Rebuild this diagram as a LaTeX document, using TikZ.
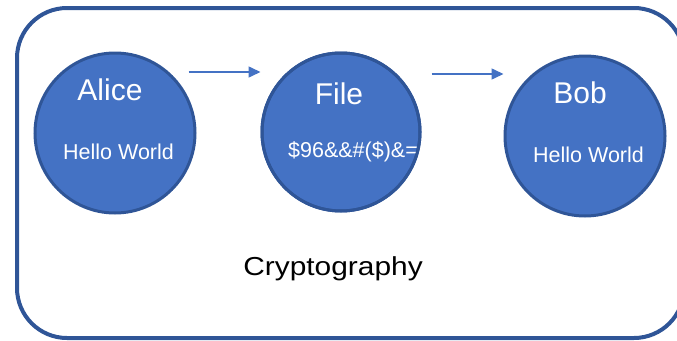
\documentclass[tikz,border=0pt]{standalone}
\usepackage{fontspec}
\setmainfont{Liberation Sans}
\usetikzlibrary{arrows.meta}
\definecolor{discfill}{HTML}{4472C4}
\definecolor{discedge}{HTML}{2F5597}
\tikzset{
  disc/.style={circle, fill=discfill, draw=discedge, line width=3pt, minimum size=#1, inner sep=0pt},
  title/.style={text=white, inner sep=0pt, anchor=base, font=\fontsize{30}{36}\selectfont},
  msg/.style={text=white, inner sep=0pt, anchor=base, font=\fontsize{21.5}{26}\selectfont},
  flow/.style={draw=discfill, line width=1.5pt, -{Triangle[length=12pt,width=11pt]}},
  frame/.style={draw=discedge, line width=4pt, rounded corners=50pt}
}
\begin{document}
\begin{tikzpicture}[x=1pt, y=-1pt]
  \useasboundingbox (0,0) rectangle (677,340);
  % outer container
  \draw[frame] (17,8) rectangle (684,338);
  % the three parties
  \node[disc=160pt] (alice) at (115,133) {};
  \node[disc=158pt] (file)  at (341,132) {};
  \node[disc=160pt] (bob)   at (585,136) {};
  % labels
  \node[title] (alicet) at (110,100) {Alice};
  \node[msg]   (alicem) at (118.5,159) {Hello World};
  \node[title] (filet)  at (339,104) {File};
  \node[msg, anchor=base west] (filem) at (288,157) {\$96\&\&\#(\$)\&=};
  % the cipher text runs under the rim of its disc
  \draw[draw=discedge, line width=3pt] (file.center) circle[radius=79pt];
  \node[title] (bobt)   at (580,103) {Bob};
  \node[msg]   (bobm)   at (588.5,162) {Hello World};
  \node[inner sep=0pt, anchor=base, font=\fontsize{26}{32}\selectfont] (crypt) at (333,275) {\scalebox{1.15}[1]{Cryptography}};
  % transfer arrows
  \draw[flow] ([xshift=-8pt, yshift=61pt]alice.east) -- ([yshift=60pt]file.west);
  \draw[flow] ([xshift=10pt, yshift=58pt]file.east) -- ([yshift=62pt]bob.west);
\end{tikzpicture}
\end{document}
